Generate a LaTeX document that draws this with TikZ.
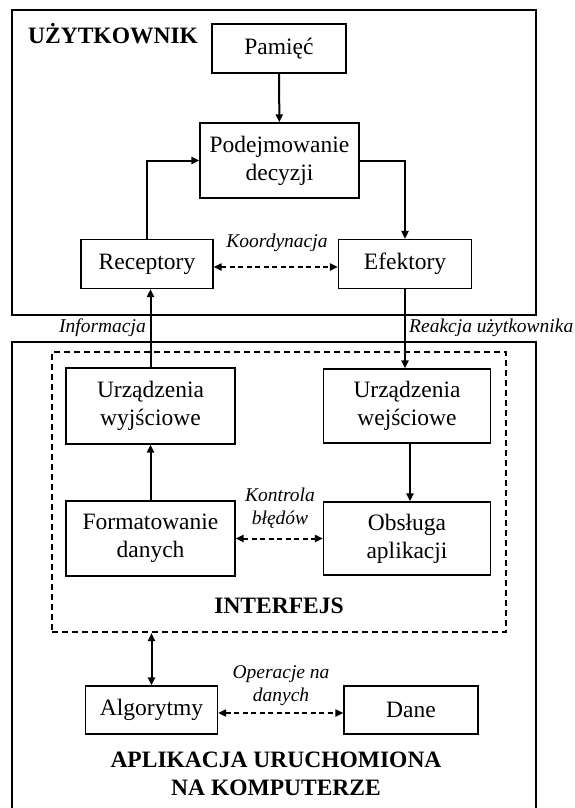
\documentclass[tikz,border=0pt]{standalone}
\usepackage{fontspec}
\setmainfont{Liberation Serif}
\usetikzlibrary{arrows.meta}
\tikzset{
  box/.style={draw, line width=1.3pt, inner sep=0pt, align=center, font=\fontsize{23.5}{28}\selectfont},
  lbl/.style={inner sep=0pt, align=center, font=\fontsize{19.5}{23}\selectfont\itshape},
  ttl/.style={inner sep=0pt, align=center, font=\fontsize{23.5}{28}\selectfont\bfseries},
  tip/.tip={Triangle[length=8pt,width=7pt]},
  arr/.style={line width=2pt, -tip},
  darr/.style={line width=2pt, tip-tip},
  dsh/.style={line width=2pt, dash pattern=on 5pt off 3.5pt, tip-tip},
  frame/.style={line width=1.3pt}
}
\begin{document}
\begin{tikzpicture}[x=1pt,y=-1pt]
\useasboundingbox (0,0) rectangle (575,808);
% outer frames
\draw[frame] (12,10) rectangle (536,315);
\draw[frame] (12,810) -- (12,342) -- (536,342) -- (536,810);
\node[draw, line width=2pt, dash pattern=on 6pt off 4pt, minimum width=454pt, minimum height=280pt, inner sep=0pt] (intf) at (279,492) {};
% titles
\node[ttl, anchor=west] (tuser) at (28,34) {UŻYTKOWNIK};
\node[ttl] (tintf) at (279,606) {INTERFEJS};
\node[ttl] (tapp) at (276,774) {APLIKACJA URUCHOMIONA\\NA KOMPUTERZE};
% boxes
\node[box, minimum width=134pt, minimum height=49pt] (pam) at (279,48.5) {Pamięć};
\node[box, minimum width=159pt, minimum height=75pt] (pod) at (279.5,160.5) {Podejmowanie\\decyzji};
\node[box, minimum width=132pt, minimum height=49pt] (rec) at (147,264) {Receptory};
\node[box, minimum width=133pt, minimum height=49pt] (efe) at (405,264) {Efektory};
\node[box, minimum width=169pt, minimum height=76pt] (uwy) at (150.5,406) {Urządzenia\\wyjściowe};
\node[box, minimum width=167pt, minimum height=74pt] (uwe) at (407,406) {Urządzenia\\wejściowe};
\node[box, minimum width=169pt, minimum height=75pt] (fmt) at (150.5,538.5) {Formatowanie\\danych};
\node[box, minimum width=167pt, minimum height=73pt] (obs) at (407,538.5) {Obsługa\\aplikacji};
\node[box, minimum width=132pt, minimum height=48pt] (alg) at (151.5,710) {Algorytmy};
\node[box, minimum width=134pt, minimum height=48pt] (dane) at (411,710) {Dane};
% labels
\node[lbl] (lkoord) at (277,243) {Koordynacja};
\node[lbl, anchor=east] (linfo) at (146,328) {Informacja};
\node[lbl, anchor=west] (lreak) at (409,328) {Reakcja użytkownika};
\node[lbl] (lkontr) at (280,508) {Kontrola\\błędów};
\node[lbl] (loper) at (281,686) {Operacje na\\danych};
% connectors
\draw[arr] (pam) -- (pod);
\draw[arr] (rec.north) |- (pod.west);
\draw[arr] (pod.east) -| (efe.north);
\draw[dsh] ([yshift=-3pt]rec.east) -- ([yshift=-3pt]efe.west);
\draw[arr] (uwy.north) -- (uwy.north |- rec.south);
\draw[arr] (efe.south) -- (efe.south |- uwe.north);
\draw[arr] (fmt) -- (uwy);
\draw[arr] ([xshift=3pt]uwe.south) -- ([xshift=3pt]obs.north);
\draw[dsh] (fmt.east) -- (obs.west);
\draw[darr] (intf.south -| alg.north) -- (alg.north);
\draw[dsh] ([yshift=-3pt]alg.east) -- ([yshift=-3pt]dane.west);
\end{tikzpicture}
\end{document}
